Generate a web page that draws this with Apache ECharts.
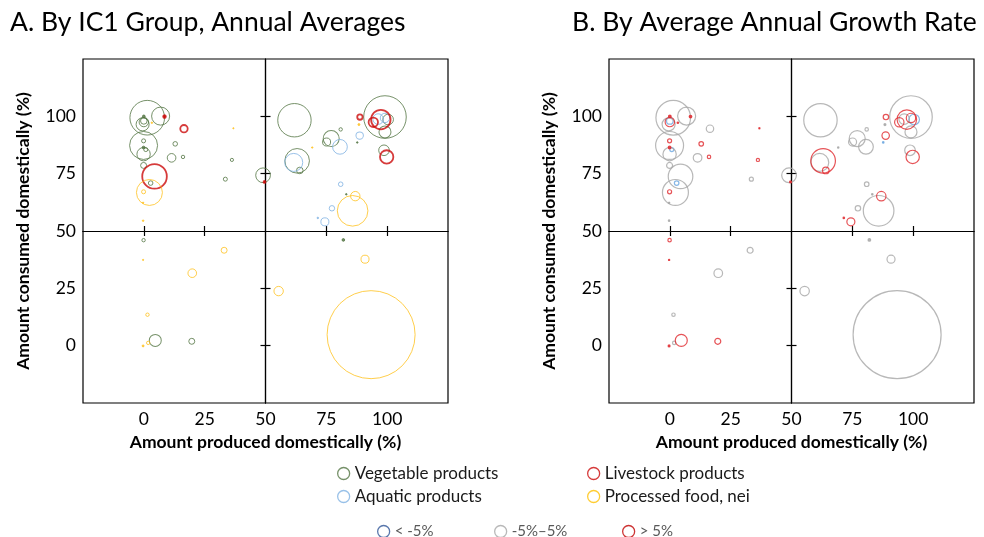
<!DOCTYPE html>
<html>
<head>
<meta charset="utf-8">
<script src="https://cdn.jsdelivr.net/npm/echarts@6/dist/echarts.min.js"></script>
<style>
  html, body { margin: 0; padding: 0; background: #fff; }
  #chart { width: 984px; height: 537px; }
</style>
</head>
<body>
<div id="chart"></div>
<script>
// one entry per commodity: share produced at home, share consumed at home,
// relative supply volume (largest = 1000), IC1 group, growth class
const produced = [1.4, 6.9, 8.5, -0.5, 0, 0, 0, 3.3, -0.1, -0.1, -0.1, 0.8, -0.1, -0.1, 4.4, 2.8, 2.3, -0.1, -0.3, -0.3,
  16.5, 12.9, 11.4, 16.1, 36.8, 36.2, 33.5, 49, 49.6, 61.9, 63, 61.6, 64.1, 69.2, 77, 75.1, 80.6, 80.9, 88.8, 88.4,
  88.7, 87.7, 99.1, 97.4, 94.3, 96.3, 99.1, 100.4, 99.1, 98.7, 99.8, 80.9, 83.2, 86.9, 85.8, 77.3, 74.4, 71.5,
  -0.1, -0.3, 19.9, 33, 1.5, 4.7, 1.8, -0.3, 19.7, 82, 90.9, 55.4, 93.4];
const consumed = [99.4, 100.1, 99.9, 96.5, 97.5, 98, 100, 97.2, 87.3, 89.3, 86.4, 85.5, 83.5, 78.6, 73.8, 70.9, 66.8, 67.1, 62.3, 54.5,
  94.6, 88, 81.9, 82.3, 94.8, 81, 72.6, 74.3, 71.4, 98.3, 80.6, 79.9, 76.4, 86.4, 90.3, 88.8, 86.7, 94.3, 99.7, 96.4,
  91.6, 88.6, 99.7, 98.6, 97.4, 98.8, 99.3, 98.6, 93.2, 85.2, 82.3, 70.4, 66, 65.2, 58.8, 59.9, 54, 55.7,
  46, 37.4, 31.6, 41.6, 13.5, 2.3, 1.2, -0.1, 1.9, 46.1, 37.7, 23.8, 4.8];
const volume = [155, 42, 0.9, 22, 11.4, 5.6, 0.9, 0.3, 101, 2.1, 1.0, 2.1, 23, 4.6, 78, 2.7, 87, 2.1, 0.25, 0.3,
  7.1, 2.7, 9.6, 1.5, 0.2, 1.3, 2.1, 28, 0.5, 144, 78, 42, 5.6, 0.25, 33, 8.3, 28, 1.5, 3.8, 0.5,
  7.1, 0.3, 234, 49, 11.4, 14.5, 11.4, 14.5, 18.6, 14.5, 23, 2.7, 0.3, 11.4, 121, 3.8, 8.3, 0.3,
  1.5, 0.2, 9.6, 4.6, 1.5, 18.6, 1.5, 0.5, 4.6, 0.9, 8.3, 11.4, 1000];
const groupOf = ['V', 'V', 'L', 'V', 'V', 'V', 'V', 'P', 'V', 'V', 'V', 'V', 'V', 'V', 'L', 'V', 'P', 'P', 'P', 'P',
  'L', 'V', 'V', 'V', 'P', 'V', 'V', 'V', 'L', 'V', 'V', 'A', 'V', 'P', 'V', 'V', 'A', 'V', 'L', 'P',
  'A', 'V', 'V', 'L', 'L', 'A', 'A', 'V', 'V', 'V', 'L', 'A', 'V', 'P', 'P', 'A', 'A', 'A',
  'V', 'P', 'P', 'P', 'P', 'V', 'P', 'P', 'V', 'V', 'P', 'P', 'P'];
const growthOf = ['M', 'M', 'H', 'M', 'H', 'N', 'H', 'H', 'M', 'H', 'H', 'N', 'M', 'M', 'M', 'N', 'M', 'H', 'M', 'M',
  'M', 'H', 'M', 'H', 'H', 'H', 'M', 'M', 'H', 'M', 'H', 'M', 'H', 'M', 'M', 'M', 'M', 'M', 'H', 'M',
  'H', 'N', 'M', 'H', 'H', 'M', 'H', 'N', 'M', 'M', 'H', 'M', 'M', 'H', 'M', 'M', 'H', 'H',
  'H', 'H', 'M', 'M', 'M', 'H', 'M', 'H', 'H', 'M', 'M', 'M', 'M'];

const groupCodes = ['V', 'A', 'L', 'P'];
const groupNames = ['Vegetable products', 'Aquatic products', 'Livestock products', 'Processed food, nei'];
const growthCodes = ['N', 'M', 'H'];
const growthNames = ['< -5%', '-5%\u20135%', '> 5%'];
const tickLabels = [0, 25, 50, 75, 100];
const crossTicks = [0, 25, 75, 100];

const groupColors = ['#547544', '#80b1e2', '#cc0a0a', '#ffc21f'];
const growthColors = ['#6ca6e0', '#a6a6a6', '#e0282d'];
const growthLegendColors = ['#2f5597', '#a6a6a6', '#c00000'];

const font = 'Lato';
const chart = echarts.init(document.getElementById('chart'));

// bubble diameter from volume (area proportional)
function bubble(v) {
  return 88 * Math.sqrt(v / 1000);
}

function points(codes, code, color) {
  let out = [];
  for (let i = 0; i < produced.length; i++) {
    if (codes[i] !== code) continue;
    out.push({
      value: [produced[i], consumed[i], volume[i]],
      itemStyle: { color: volume[i] < 1.2 ? color : 'rgba(0,0,0,0)' }
    });
  }
  // big ones first so small ones sit on top
  out.sort((a, b) => b.value[2] - a.value[2]);
  return out;
}

function axesFor(g) {
  const base = { gridIndex: g, type: 'value', min: -25, max: 125, interval: 25, splitLine: { show: false } };
  const main = {
    axisLine: { show: false, onZero: false },
    axisTick: { show: false },
    axisLabel: { customValues: tickLabels, color: '#000', fontSize: 17.5, fontFamily: font, margin: 7 },
    nameLocation: 'middle',
    nameTextStyle: { fontWeight: 'bold', fontSize: 17.5, color: '#000', fontFamily: font }
  };
  const cross = (inside, off) => ({
    offset: off,
    axisLine: { show: true, onZero: false, lineStyle: { color: '#000', width: 1.2 } },
    axisTick: { show: true, inside: inside, length: 5, customValues: crossTicks, lineStyle: { color: '#000', width: 1.2 } },
    axisLabel: { show: false }
  });
  const xs = [
    Object.assign({}, base, main, { position: 'bottom', name: 'Amount produced domestically (%)', nameGap: 25 }),
    Object.assign({}, base, cross(false, -172), { position: 'bottom' }),
    Object.assign({}, base, cross(true, -172), { position: 'bottom' })
  ];
  const ys = [
    Object.assign({}, base, main, { position: 'left', name: 'Amount consumed domestically (%)', nameGap: 51, nameRotate: 90 }),
    Object.assign({}, base, cross(false, -182.5), { position: 'left' }),
    Object.assign({}, base, cross(true, -182.5), { position: 'left' })
  ];
  return { xs, ys };
}

const axA = axesFor(0);
const axB = axesFor(1);

let series = [];
groupCodes.forEach((c, k) => {
  series.push({
    name: groupNames[k], type: 'scatter', xAxisIndex: 0, yAxisIndex: 0,
    data: points(groupOf, c, groupColors[k]),
    symbolSize: d => bubble(d[2]),
    itemStyle: { borderColor: groupColors[k], borderWidth: c === 'L' ? 1.8 : 1 },
    emphasis: { disabled: true }
  });
});
growthCodes.forEach((c, k) => {
  series.push({
    name: growthNames[k], type: 'scatter', xAxisIndex: 3, yAxisIndex: 3,
    data: points(growthOf, c, growthColors[k]),
    symbolSize: d => bubble(d[2]),
    itemStyle: { borderColor: growthColors[k], borderWidth: 1.2 },
    emphasis: { disabled: true }
  });
});

function legendItem(name, color) {
  return { name: name, itemStyle: { color: '#fff', borderColor: color, borderWidth: 1.3 } };
}
const legendBase = { icon: 'circle', itemWidth: 12, itemHeight: 12, selectedMode: false };
const bigText = { fontSize: 17, color: '#1a1a1a', fontFamily: font };
const smallText = { fontSize: 15, color: '#595959', fontFamily: font };

let option = {
  animation: false,
  title: [
    { text: 'A. By IC1 Group, Annual Averages', left: 10, top: 9, padding: 0,
      textStyle: { fontSize: 26.5, fontWeight: 'normal', color: '#000', fontFamily: font } },
    { text: 'B. By Average Annual Growth Rate', left: 572, top: 9, padding: 0,
      textStyle: { fontSize: 26.5, fontWeight: 'normal', color: '#000', fontFamily: font } }
  ],
  grid: [
    { left: 83, top: 59, width: 365, height: 344, show: true, borderColor: '#000', borderWidth: 1.2 },
    { left: 609, top: 59, width: 365, height: 344, show: true, borderColor: '#000', borderWidth: 1.2 }
  ],
  xAxis: axA.xs.concat(axB.xs),
  yAxis: axA.ys.concat(axB.ys),
  legend: [
    Object.assign({}, legendBase, { orient: 'vertical', left: 332, top: 460, itemGap: 6, textStyle: bigText,
      data: [legendItem(groupNames[0], groupColors[0]), legendItem(groupNames[1], groupColors[1])] }),
    Object.assign({}, legendBase, { orient: 'vertical', left: 582, top: 460, itemGap: 6, textStyle: bigText,
      data: [legendItem(groupNames[2], groupColors[2]), legendItem(groupNames[3], '#ffc000')] }),
    Object.assign({}, legendBase, { left: 372, top: 519, textStyle: smallText,
      data: [legendItem(growthNames[0], growthLegendColors[0])] }),
    Object.assign({}, legendBase, { left: 489, top: 519, textStyle: smallText,
      data: [legendItem(growthNames[1], growthLegendColors[1])] }),
    Object.assign({}, legendBase, { left: 617, top: 519, textStyle: smallText,
      data: [legendItem(growthNames[2], growthLegendColors[2])] })
  ],
  series: series
};
chart.setOption(option);
</script>
</body>
</html>
